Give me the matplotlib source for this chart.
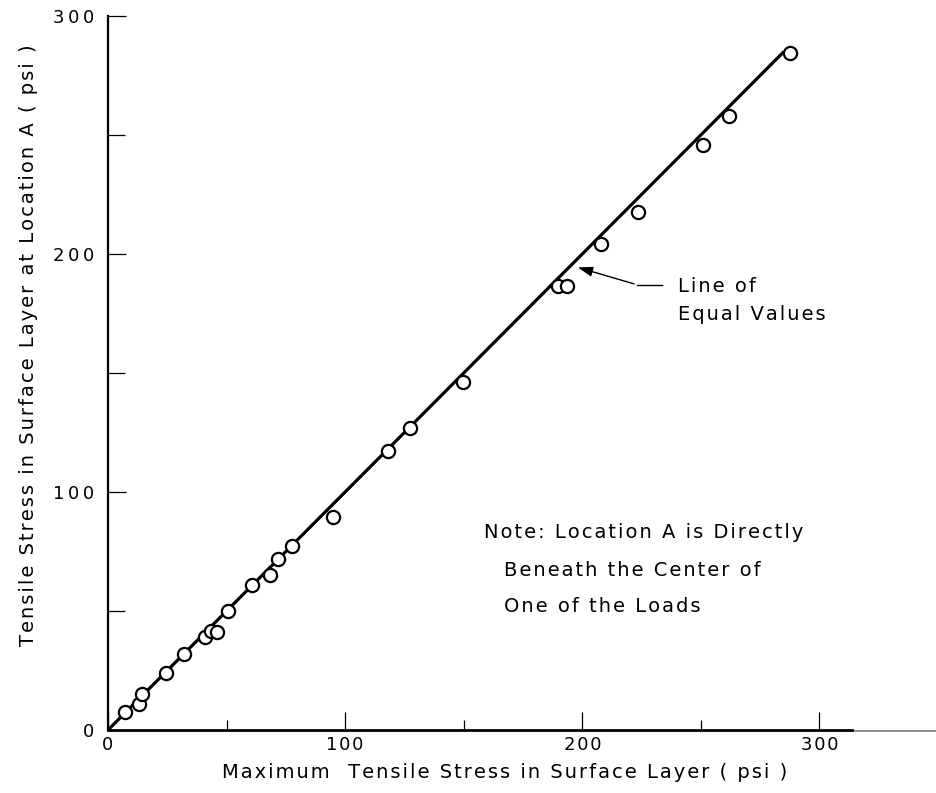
"""Tensile stress at location A vs maximum tensile stress in the surface layer, with line of equal values."""
import matplotlib
matplotlib.use("Agg")
import matplotlib.pyplot as plt

plt.rcParams["font.family"] = ["DejaVu Sans"]

# maximum tensile stress in surface layer (psi)
max_stress = [7.0, 13.2, 14.2, 24.5, 32.1, 41.0, 43.3, 46.1, 50.7, 60.7, 68.2, 71.8, 77.5,
              94.8, 118.2, 127.4, 149.9, 189.6, 193.7, 207.9, 223.4, 250.8, 262.0, 287.6]
# tensile stress at location A (psi)
loc_a_stress = [7.7, 10.9, 15.1, 24.1, 31.9, 38.9, 41.6, 41.3, 50.0, 60.8, 65.1, 71.8, 77.5,
                89.4, 117.4, 126.8, 146.3, 186.7, 186.7, 204.2, 217.5, 245.7, 257.9, 284.3]
equal_line = [0, 285]
ticks = [0, 100, 200, 300]
minor_ticks = [50, 150, 250]


def spaced(s, gap="\u200a"):
    # lettering-guide look: wide letter spacing
    return gap.join(s)


W, H = 937, 793
fig = plt.figure(figsize=(W / 100, H / 100), dpi=100)
ax = fig.add_axes([108 / W, 1 - 730 / H, (W - 108) / W, (730 - 16) / H])
ax.set_xlim(0, 349.6); ax.set_ylim(0, 300)

ax.plot(equal_line, equal_line, color="black", lw=2.3, zorder=2, solid_capstyle="butt")
ax.plot(max_stress, loc_a_stress, "o", ms=9.5, mfc="white", mec="black", mew=1.6, zorder=3)

for s in ("top", "right"):
    ax.spines[s].set_visible(False)
ax.spines["left"].set_linewidth(1.6)
ax.spines["bottom"].set_linewidth(2.0)
ax.spines["bottom"].set_bounds(0, 313.6)
ax.plot([313.6, 349.6], [-0.6, -0.6], color="0.55", lw=1.4, clip_on=False, zorder=1)

ax.set_xticks(ticks); ax.set_yticks(ticks)
ax.set_xticks(minor_ticks, minor=True); ax.set_yticks(minor_ticks, minor=True)
ax.set_xticklabels([spaced(str(t)) for t in ticks])
ax.set_yticklabels([spaced(str(t), "\u2009") for t in ticks])
ax.tick_params(axis="both", which="major", direction="in", length=13, width=0.9,
               labelsize=13, color="black")
ax.tick_params(axis="x", which="major", pad=4)
ax.tick_params(axis="y", which="major", pad=10)
ax.tick_params(axis="x", which="minor", direction="in", length=7, width=0.9)
ax.tick_params(axis="y", which="minor", direction="in", length=12, width=0.9)

ax.set_xlabel(spaced("Maximum  Tensile Stress in Surface Layer ( psi )"), fontsize=14)
ax.xaxis.set_label_coords((505 - 108) / (W - 108), (730 - 773) / (730 - 16))
ax.xaxis.label.set_va("center")
ax.set_ylabel(spaced("Tensile Stress in Surface Layer at Location A ( psi )"), fontsize=14)
ax.yaxis.set_label_coords((29 - 108) / (W - 108), (730 - 345) / (730 - 16))
ax.yaxis.label.set_va("center")

# line of equal values callout
ax.plot([233.5, 223], [187.1, 187.1], color="black", lw=1.0)
ax.annotate("", xy=(197, 194.7), xytext=(223, 187.1),
            arrowprops=dict(arrowstyle="-|>,head_length=0.9,head_width=0.3", color="black", lw=1.0))
ax.text(240.4, 186.3, spaced("Line of"), fontsize=14, va="center", ha="left")
ax.text(240.4, 174.4, spaced("Equal Values"), fontsize=14, va="center", ha="left")

ax.text(158.6, 82.8, spaced("Note: Location A is Directly"), fontsize=14, va="center", ha="left")
ax.text(167, 67.2, spaced("Beneath the Center of"), fontsize=14, va="center", ha="left")
ax.text(167, 51.7, spaced("One of the Loads"), fontsize=14, va="center", ha="left")

fig.savefig("out.png", dpi=100)
print("[plot] wrote out.png")
